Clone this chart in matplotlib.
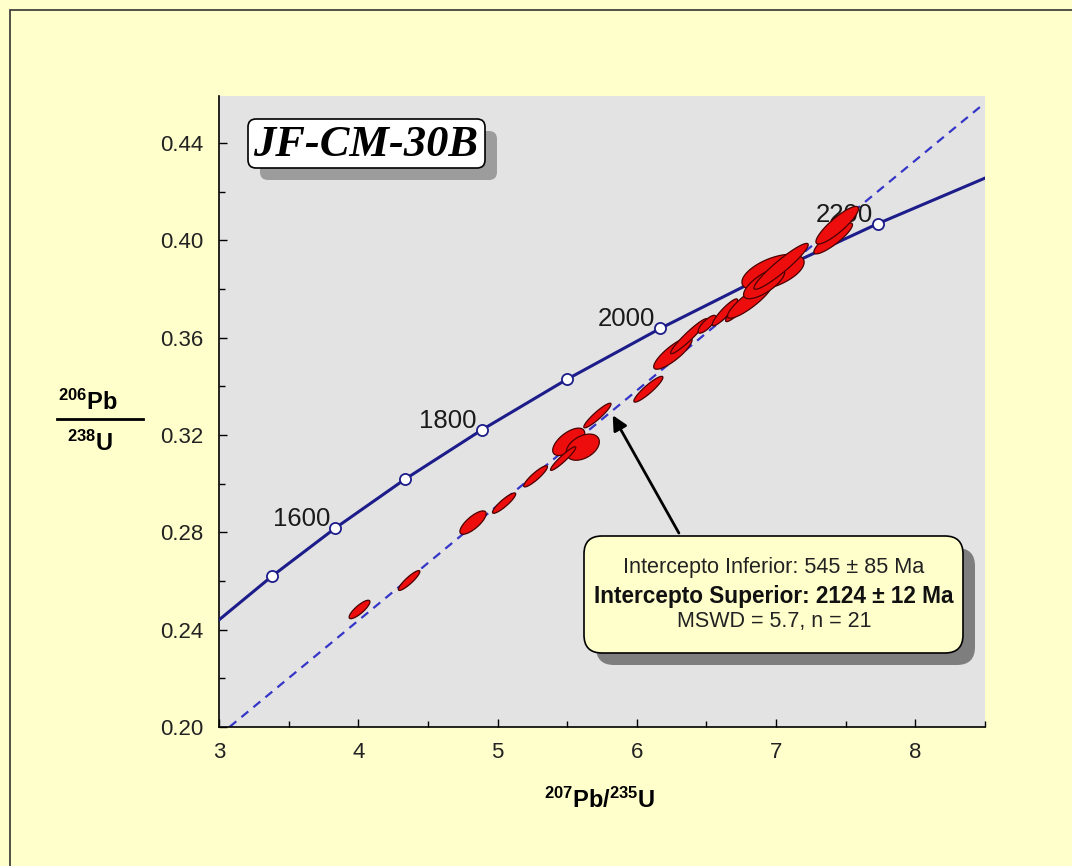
import numpy as np
import matplotlib.pyplot as plt
from matplotlib.patches import Polygon, FancyBboxPatch, Rectangle
from matplotlib.transforms import IdentityTransform

plt.rcParams['font.family'] = ['Liberation Sans', 'DejaVu Sans']
plt.rcParams['mathtext.fontset'] = 'custom'
plt.rcParams['mathtext.rm'] = 'Liberation Sans'
plt.rcParams['mathtext.bf'] = 'Liberation Sans:bold'
plt.rcParams['mathtext.default'] = 'bf'

W, H = 1072, 866

# concordia nodes: age (Ma), 207Pb/235U, 206Pb/238U
conc_age = [1400, 1500, 1600, 1700, 1800, 1900, 2000, 2100, 2200, 2300]
conc_x = [2.970, 3.381, 3.834, 4.335, 4.887, 5.496, 6.169, 6.911, 7.729, 8.633]
conc_y = [0.2426, 0.2620, 0.2817, 0.3018, 0.3221, 0.3428, 0.3638, 0.3851, 0.4068, 0.4288]
label_ages = [1600, 1800, 2000, 2200]

# discordia intercepts (545 Ma and 2124 Ma) as 207/235, 206/238
lower_icpt = (0.7103, 0.0882)
upper_icpt = (7.100, 0.3903)

# zircon spots: ratios, 2-sigma errors, error correlation
spot_x = [4.009, 4.365, 4.824, 5.047, 5.273, 5.511, 5.612, 5.471, 5.717, 6.083,
          6.259, 6.374, 6.504, 6.633, 6.741, 6.813, 6.978, 6.914, 7.036, 7.410, 7.439]
spot_y = [0.2483, 0.2602, 0.2840, 0.2920, 0.3030, 0.3172, 0.3150, 0.3103, 0.3280, 0.3388,
          0.3536, 0.3606, 0.3655, 0.3704, 0.3725, 0.3754, 0.3869, 0.3823, 0.3893, 0.4008, 0.4062]
spot_sx = [0.0747, 0.0771, 0.0942, 0.0832, 0.0852, 0.1149, 0.1189, 0.0907, 0.0977, 0.1043,
           0.1379, 0.1313, 0.0643, 0.0908, 0.1038, 0.1617, 0.2234, 0.1476, 0.1949, 0.1386, 0.1530]
spot_sy = [0.00379, 0.00408, 0.00480, 0.00418, 0.00435, 0.00562, 0.00538, 0.00485, 0.00506, 0.00530,
           0.00659, 0.00720, 0.00367, 0.00552, 0.00592, 0.00743, 0.00736, 0.00631, 0.00943, 0.00637, 0.00772]
spot_rho = [0.832, 0.897, 0.762, 0.894, 0.900, 0.622, 0.406, 0.940, 0.925, 0.913,
            0.838, 0.951, 0.800, 0.906, 0.923, 0.876, 0.557, 0.729, 0.940, 0.876, 0.876]


def err_ellipse(x, y, sx, sy, rho, n=72):
    cov = np.array([[sx * sx, rho * sx * sy], [rho * sx * sy, sy * sy]])
    vals, vecs = np.linalg.eigh(cov)
    t = np.linspace(0, 2 * np.pi, n)
    pts = vecs @ (np.sqrt(vals)[:, None] * np.vstack([np.cos(t), np.sin(t)]))
    return np.column_stack([x + pts[0], y + pts[1]])


def rbox(x0, y0, x1, y1, r, **kw):
    # rounded box given in image pixels (top-left origin)
    return FancyBboxPatch((x0, H - y1), x1 - x0, y1 - y0,
                          boxstyle=f'round,pad=0,rounding_size={r}',
                          transform=IdentityTransform(), **kw)


fig = plt.figure(figsize=(W / 100, H / 100), dpi=100, facecolor='#FFFFCC')
ax = fig.add_axes([219 / W, 1 - 727 / H, 766 / W, 631 / H])
ax.set_facecolor('#E3E3E3')

ax.axline(lower_icpt, upper_icpt, color='#3535C8', lw=1.6, ls=(0, (4, 3)), zorder=2)
ax.plot(conc_x, conc_y, color='#1C1C8A', lw=2.2, zorder=3)

ages = np.array(conc_age)
cx = np.array(conc_x)
cy = np.array(conc_y)
shown = (ages >= 1500) & (ages <= 2200)
ax.plot(cx[shown], cy[shown], 'o', ms=8, mfc='white', mec='#1C1C8A', mew=1.3, zorder=4)
for a in label_ages:
    i = conc_age.index(a)
    ax.annotate(str(a), (conc_x[i], conc_y[i]), xytext=(-5, 9), textcoords='offset pixels',
                ha='right', va='center', fontsize=18.5, color='#1a1a1a', zorder=5)

for x, y, sx, sy, r in zip(spot_x, spot_y, spot_sx, spot_sy, spot_rho):
    ax.add_patch(Polygon(err_ellipse(x, y, sx, sy, r), closed=True, fc='#EE0D0D',
                         ec='#4A0000', lw=0.9, zorder=6))

ax.annotate('', xy=(5.827, 0.3281), xytext=(6.302, 0.2797),
            arrowprops=dict(arrowstyle='-|>', color='black', lw=2, mutation_scale=22,
                            shrinkA=0, shrinkB=0), zorder=7)

ax.set_xlim(3, 8.5)
ax.set_ylim(0.20, 0.4593)
ax.set_xticks(np.arange(3, 9))
ax.set_xticks(np.arange(3, 8.6, 0.5), minor=True)
ax.set_yticks(np.arange(0.20, 0.441, 0.04))
ax.set_yticks(np.arange(0.20, 0.46, 0.02), minor=True)
ax.yaxis.set_major_formatter(plt.FormatStrFormatter('%.2f'))
ax.tick_params(which='major', direction='in', length=6, width=1, labelsize=16, pad=11,
               colors='black', labelcolor='#222222')
ax.tick_params(which='minor', direction='in', length=4, width=1)
for s in ['top', 'right']:
    ax.spines[s].set_visible(False)
for s in ['left', 'bottom']:
    ax.spines[s].set_linewidth(1.2)

# axis titles
fig.text(600 / W, 1 - 800 / H, r'$^{207}$Pb/$^{235}$U', ha='center', va='center',
         fontsize=17, fontweight='bold')
fig.text(88 / W, 1 - 402 / H, r'$^{206}$Pb', ha='center', va='center', fontsize=17, fontweight='bold')
fig.text(90 / W, 1 - 443 / H, r'$^{238}$U', ha='center', va='center', fontsize=17, fontweight='bold')
fig.add_artist(plt.Line2D([57 / W, 143 / W], [1 - 419 / H, 1 - 419 / H], color='black', lw=2))

# sample name box
fig.add_artist(rbox(260, 131, 497, 180, 8, fc='#9C9C9C', ec='none', zorder=5))
fig.add_artist(rbox(248, 119, 485, 168, 8, fc='white', ec='black', lw=1.2, zorder=6))
fig.text(366 / W, 1 - 145 / H, 'JF-CM-30B', ha='center', va='center', fontsize=32,
         family=['Liberation Serif'], fontweight='bold', style='italic', zorder=7)

# intercept summary box
fig.add_artist(rbox(596, 548, 975, 665, 18, fc='#7E7E7E', ec='none', zorder=5))
fig.add_artist(rbox(584, 536, 963, 653, 18, fc='#FFFFCC', ec='black', lw=1.2, zorder=6))
fig.text(774 / W, 1 - 567 / H, 'Intercepto Inferior: 545 ± 85 Ma', ha='center', va='center',
         fontsize=15.6, color='#222222', zorder=7)
fig.text(774 / W, 1 - 596 / H, 'Intercepto Superior: 2124 ± 12 Ma', ha='center', va='center',
         fontsize=16.3, fontweight='bold', color='#111111', zorder=7)
fig.text(774 / W, 1 - 621 / H, 'MSWD = 5.7, n = 21', ha='center', va='center',
         fontsize=15.5, color='#222222', zorder=7)

# outer frame
fig.add_artist(Rectangle((10, -5), W, H - 5, transform=IdentityTransform(),
                         fill=False, ec='#333333', lw=1.2))

fig.savefig('out.png', dpi=100, facecolor=fig.get_facecolor())
